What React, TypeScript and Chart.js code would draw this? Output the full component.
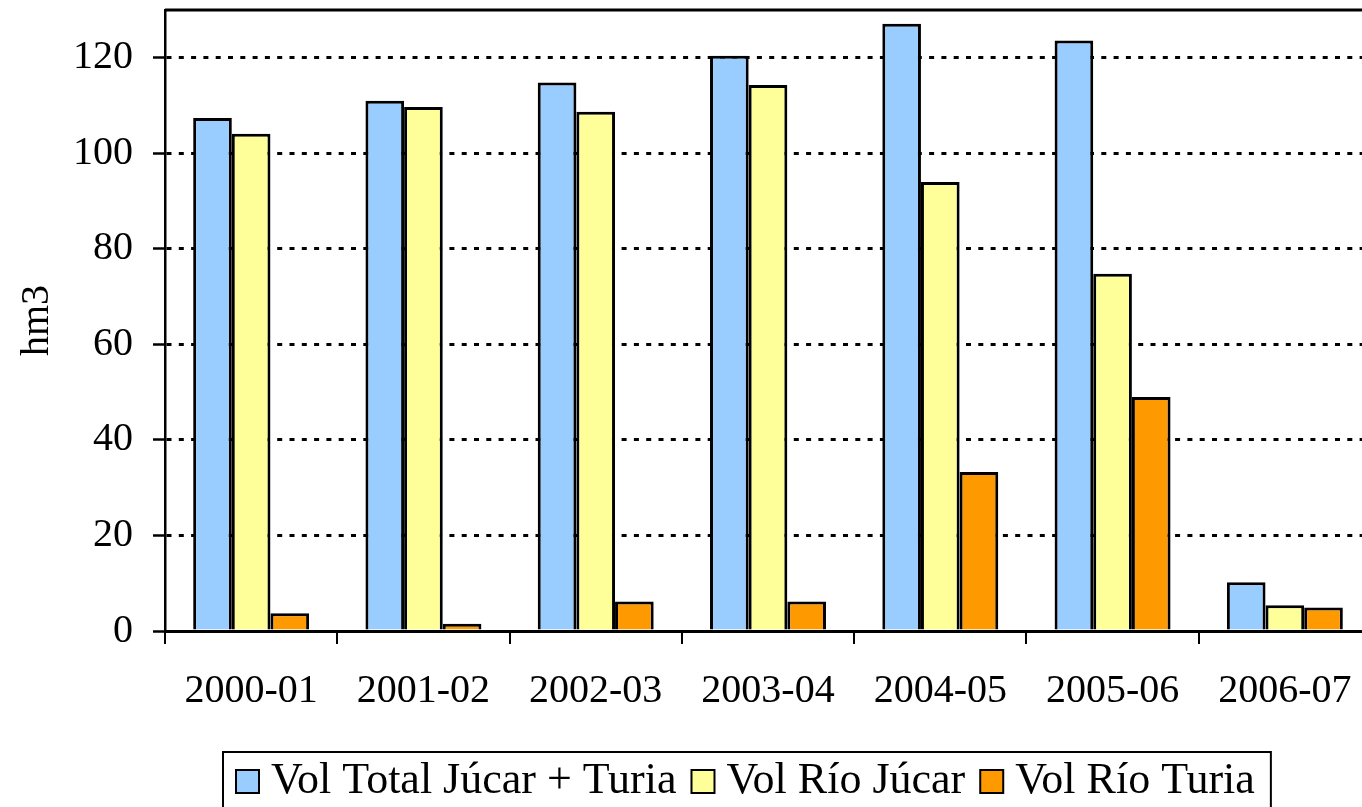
import React, { useEffect, useRef } from "react";
import { Chart, registerables } from "chart.js";

Chart.register(...registerables);

const categories = ["2000-01", "2001-02", "2002-03", "2003-04", "2004-05", "2005-06", "2006-07"];
const volTotal = [107.4, 111.0, 114.8, 120.4, 127.1, 123.6, 10.2];
const volJucar = [104.1, 109.7, 108.7, 114.3, 94.0, 74.8, 5.4];
const volTuria = [3.7, 1.5, 6.2, 6.2, 33.3, 49.0, 4.9];
const seriesNames = ["Vol Total Júcar + Turia", "Vol Río Júcar", "Vol Río Turia"];
const seriesColors = ["#99CCFF", "#FFFF99", "#FF9900"];
const yAxisTitle = "hm3";
const yMax = 130;
const yStep = 20;
const yTickMax = 120;

const FONT = '"Liberation Serif", "Times New Roman", serif';
const CW = 1380;
const CH = 840;

const framePlugin = {
  id: "frameAndLegend",
  afterDraw(chart: any) {
    const { ctx, chartArea: a } = chart;
    ctx.save();
    ctx.strokeStyle = "#000";
    ctx.lineWidth = 3;
    ctx.beginPath();
    ctx.moveTo(a.left, a.top);
    ctx.lineTo(a.right, a.top);
    ctx.lineTo(a.right, a.bottom);
    ctx.stroke();

    // legend box
    const fontSize = 44;
    ctx.font = `${fontSize}px ${FONT}`;
    const left = 223;
    const top = 752;
    const sq = 23;
    const padL = 13;
    const gapSqText = 12;
    const gapItems = 15;
    const padR = 16;
    const baseline = 793;
    let x = left + padL;
    const items: { sx: number; tx: number; label: string; color: string }[] = [];
    chart.data.datasets.forEach((ds: any, i: number) => {
      const label = ds.label as string;
      const w = ctx.measureText(label).width;
      items.push({ sx: x, tx: x + sq + gapSqText, label, color: ds.backgroundColor });
      x += sq + gapSqText + w;
      if (i < chart.data.datasets.length - 1) x += gapItems;
    });
    const right = x + padR;
    ctx.lineWidth = 2;
    ctx.strokeStyle = "#000";
    ctx.strokeRect(left, top, right - left, 120);
    items.forEach((it) => {
      ctx.fillStyle = it.color;
      ctx.fillRect(it.sx, baseline - sq, sq, sq);
      ctx.lineWidth = 2;
      ctx.strokeStyle = "#000";
      ctx.strokeRect(it.sx, baseline - sq, sq, sq);
      ctx.fillStyle = "#000";
      ctx.textBaseline = "alphabetic";
      ctx.textAlign = "left";
      ctx.fillText(it.label, it.tx, baseline);
    });
    ctx.restore();
  },
};

export default function App() {
  const ref = useRef<HTMLCanvasElement | null>(null);
  useEffect(() => {
    if (!ref.current) return;
    const seriesValues = [volTotal, volJucar, volTuria];
    const chart = new Chart(ref.current, {
      type: "bar",
      data: {
        labels: categories,
        datasets: seriesValues.map((vals, i) => ({
          label: seriesNames[i],
          data: vals,
          backgroundColor: seriesColors[i],
          borderColor: "#000",
          borderWidth: 3,
          categoryPercentage: 0.673,
          barPercentage: 1,
        })),
      },
      options: {
        animation: false,
        responsive: false,
        devicePixelRatio: 1,
        layout: { padding: { top: 10, right: CW - 1371, left: 0, bottom: 0 } },
        plugins: { legend: { display: false }, tooltip: { enabled: false } },
        scales: {
          x: {
            grid: {
              display: true,
              drawOnChartArea: false,
              drawTicks: true,
              tickLength: 13,
              color: "#000",
              lineWidth: 2,
              offset: true,
            },
            border: { display: true, color: "#000", width: 3 },
            ticks: { color: "#000", font: { family: FONT, size: 40 }, padding: 23, maxRotation: 0 },
            afterFit: (scale: any) => {
              scale.height = CH - 631;
              scale.paddingLeft = 0;
              scale.paddingRight = 0;
            },
          },
          y: {
            min: 0,
            max: yMax,
            ticks: {
              stepSize: yStep,
              color: "#000",
              font: { family: FONT, size: 40 },
              padding: 20,
            },
            afterBuildTicks: (scale: any) => {
              scale.ticks = scale.ticks.filter((t: any) => t.value <= yTickMax);
            },
            grid: {
              color: (c: any) => (c.tick && c.tick.value === 0 ? "rgba(0,0,0,0)" : "#000"),
              tickColor: "#000",
              lineWidth: 3,
              tickWidth: 2.5,
              tickBorderDash: [],
              drawTicks: true,
              tickLength: 12,
            },
            border: { display: true, color: "#000", width: 2.5, dash: [5, 7.3] },
            title: {
              display: true,
              text: yAxisTitle,
              color: "#000",
              font: { family: FONT, size: 40 },
              padding: { top: 13, bottom: 0 },
            },
            afterFit: (scale: any) => {
              scale.width = 165;
              scale.paddingTop = 0;
              scale.paddingBottom = 0;
            },
          },
        },
      },
      plugins: [framePlugin],
    });
    return () => chart.destroy();
  }, []);
  return (
    <div style={{ position: "absolute", left: 0, top: 0, width: 1362, height: 807, overflow: "hidden", background: "#fff" }}>
      <canvas ref={ref} width={CW} height={CH} style={{ display: "block", width: CW, height: CH }} />
    </div>
  );
}
